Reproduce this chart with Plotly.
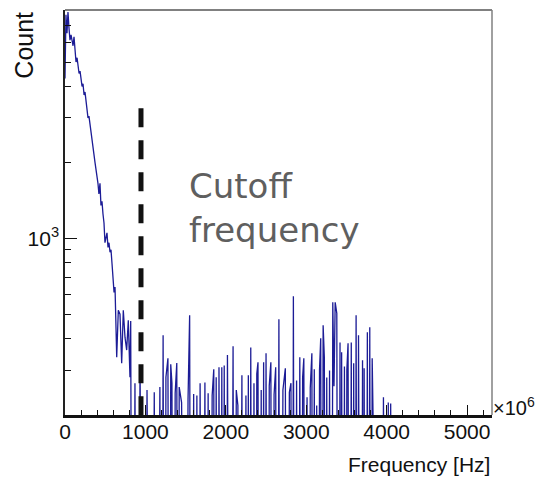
import numpy as np
import plotly.graph_objects as go

# ---- data (Hz, counts; 0 = empty bin) ----
freq_hz = [
    0, 12, 25, 37, 50, 62, 75, 87, 100, 112, 125, 137, 150, 162, 175, 187, 200, 212, 224, 237,
    249, 262, 274, 286, 298, 311, 323, 336, 348, 360, 373, 385, 398, 410, 422, 435, 447, 460, 472, 485,
    497, 510, 522, 535, 547, 560, 572, 585, 597, 610, 622, 643, 663, 684, 705, 725, 746, 767, 787, 808,
    817, 842, 870, 899, 933, 960, 990, 1020, 1050, 1080, 1110, 1140, 1180, 1200, 1220, 1240, 1255, 1280, 1300, 1315,
    1330, 1350, 1370, 1390, 1410, 1420, 1450, 1470, 1500, 1530, 1550, 1570, 1600, 1620, 1640, 1660, 1680, 1710, 1740, 1760,
    1780, 1800, 1830, 1850, 1865, 1880, 1900, 1915, 1935, 1950, 1965, 1980, 2000, 2020, 2040, 2060, 2090, 2110, 2130, 2150,
    2170, 2190, 2200, 2220, 2250, 2265, 2280, 2295, 2310, 2330, 2350, 2370, 2385, 2400, 2420, 2440, 2455, 2470, 2485, 2500,
    2520, 2540, 2560, 2580, 2600, 2620, 2640, 2660, 2680, 2710, 2740, 2760, 2790, 2810, 2825, 2840, 2860, 2880, 2900, 2920,
    2940, 2955, 2970, 2990, 3010, 3030, 3050, 3070, 3085, 3100, 3115, 3130, 3150, 3165, 3180, 3195, 3210, 3225, 3240, 3255,
    3270, 3290, 3310, 3330, 3345, 3360, 3380, 3400, 3420, 3430, 3440, 3460, 3475, 3490, 3505, 3520, 3540, 3560, 3575, 3590,
    3605, 3620, 3640, 3650, 3660, 3680, 3700, 3710, 3720, 3740, 3760, 3775, 3790, 3805, 3820, 3840, 3940, 3960, 3980, 4000,
    4020, 4035, 4050, 4070, 5300,
]
counts = [
    4300, 7700, 6500, 7900, 6800, 6100, 6400, 6000, 5800, 6300, 5400, 5000, 5200, 4700, 4500, 4600, 4200, 4000, 4100, 3700,
    3800, 3400, 3300, 3000, 3050, 2800, 2600, 2500, 2250, 2150, 2000, 1900, 1750, 1650, 1500, 1650, 1350, 1400, 1250, 1150,
    960, 1010, 1050, 920, 960, 880, 900, 790, 660, 610, 640, 337, 518, 500, 319, 518, 405, 360, 473, 281,
    470, 0, 266, 0, 308, 0, 0, 250, 0, 0, 245, 0, 257, 0, 412, 0, 281, 334, 0, 316,
    266, 0, 243, 320, 0, 257, 223, 0, 0, 230, 495, 0, 241, 0, 238, 0, 266, 0, 268, 0,
    243, 0, 238, 302, 0, 281, 0, 308, 0, 308, 0, 313, 0, 344, 0, 0, 373, 0, 250, 217,
    0, 238, 286, 0, 238, 0, 286, 0, 369, 0, 266, 0, 290, 322, 0, 250, 0, 322, 0, 350,
    0, 260, 322, 0, 240, 308, 0, 477, 0, 250, 305, 0, 245, 266, 0, 589, 0, 273, 0, 337,
    0, 280, 334, 0, 234, 0, 255, 350, 0, 302, 0, 217, 0, 300, 401, 0, 452, 337, 0, 280,
    0, 299, 0, 557, 259, 557, 504, 0, 386, 0, 353, 0, 310, 0, 300, 383, 0, 386, 0, 319,
    0, 495, 0, 412, 281, 0, 328, 0, 305, 0, 424, 0, 444, 0, 334, 0, 0, 234, 0, 0,
    223, 0, 221, 0, 0,
]

cutoff_hz = 945
cutoff_top = 3280
y_floor = 199
y_top = 8040

x_major = [0, 1000, 2000, 3000, 4000, 5000]
y_major = [1000]
y_major_text = ["10<sup>3</sup>"]
y_minor = [200, 300, 400, 500, 600, 700, 800, 900, 2000, 3000, 4000, 5000, 6000, 7000, 8000]

# empty bins fall below the log floor and are clipped by the frame
plot_counts = np.where(np.array(counts) > 0, np.array(counts), 1)

fig = go.Figure()
fig.add_trace(go.Scatter(
    x=freq_hz, y=plot_counts, mode="lines",
    line=dict(color="#1c1c96", width=1.3), hoverinfo="skip",
))
fig.add_trace(go.Scatter(
    x=[cutoff_hz, cutoff_hz], y=[cutoff_top, y_floor * 0.9], mode="lines",
    line=dict(color="#111111", width=5, dash="19px,13px"), hoverinfo="skip",
))

font_main = "Liberation Sans, Arial, Helvetica, sans-serif"

fig.update_layout(
    width=538, height=478,
    margin=dict(l=65, r=46, t=10, b=63),
    paper_bgcolor="white", plot_bgcolor="white",
    showlegend=False,
    font=dict(family=font_main, size=21, color="#111111"),
    xaxis=dict(
        range=[0, 5310], tickvals=x_major, ticks="inside", ticklen=10, tickcolor="#111111",
        showgrid=False, zeroline=False, showline=True, linecolor="#111111", linewidth=2.5,
        tickfont=dict(size=21), ticklabelstandoff=-4,
        minor=dict(dtick=200, tick0=0, ticks="inside", ticklen=5, tickcolor="#111111", showgrid=False),
    ),
    yaxis=dict(
        type="log", range=[np.log10(y_floor), np.log10(y_top)],
        tickvals=y_major, ticktext=y_major_text, ticks="inside", ticklen=12, tickcolor="#111111",
        showgrid=False, zeroline=False, showline=True, linecolor="#222222", linewidth=1.5,
        tickfont=dict(size=21),
        minor=dict(tickmode="array", tickvals=y_minor, ticks="inside", ticklen=6,
                   tickcolor="#111111", showgrid=False),
    ),
    shapes=[
        dict(type="line", xref="paper", yref="paper", x0=0, x1=1, y0=1, y1=1,
             line=dict(color="#808080", width=2)),
        dict(type="line", xref="paper", yref="paper", x0=1, x1=1, y0=0, y1=1,
             line=dict(color="#808080", width=1.5)),
    ],
    annotations=[
        dict(text="Count", xref="paper", yref="paper", x=-0.098, y=1.0, xanchor="center", yanchor="top",
             textangle=-90, showarrow=False, font=dict(size=25, family=font_main)),
        dict(text="Frequency [Hz]", xref="paper", yref="paper", x=1.0, y=-0.09, xanchor="right",
             yanchor="top", showarrow=False, font=dict(size=21, family=font_main)),
        dict(text="×10<sup>6</sup>", xref="paper", yref="paper", x=0.998, y=0.02, xanchor="left",
             yanchor="middle", showarrow=False, font=dict(size=20, family=font_main)),
        dict(text="Cutoff<br>frequency", xref="paper", yref="paper", x=0.285, y=0.62,
             xanchor="left", yanchor="top", align="left", showarrow=False,
             font=dict(size=34, family="DejaVu Sans, sans-serif", color="#5f5f5f")),
    ],
)

fig.write_html("out.html", config={"displayModeBar": False},
               post_script="document.body.style.margin='0';")
